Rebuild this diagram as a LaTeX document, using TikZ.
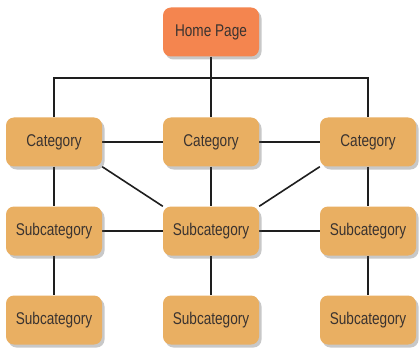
\documentclass[tikz,border=0pt]{standalone}
\usepackage{fontspec}
\setmainfont{Liberation Sans}[FakeStretch=0.8]
\usetikzlibrary{shadows,backgrounds}
\definecolor{boxc}{HTML}{E9AF62}
\definecolor{homec}{HTML}{F4854F}
\definecolor{txt}{HTML}{3A3330}
\definecolor{ln}{HTML}{1E1E1E}
\begin{document}
\begin{tikzpicture}[x=1pt,y=-1pt,
  box/.style={rounded corners=8pt, minimum width=96pt, minimum height=49pt,
    fill=boxc, text=txt, font=\fontsize{17}{20}\selectfont,
    drop shadow={shadow xshift=2.5pt, shadow yshift=-3pt, opacity=0.3, fill=black!70}},
  homebox/.style={box, fill=homec},
  conn/.style={draw=ln, line width=1.6pt}]
\useasboundingbox (0,0) rectangle (419,347);
\node[homebox] (home) at (211,32) {Home Page};
\node[box] (cat1) at (54,142) {Category};
\node[box] (cat2) at (211,142) {Category};
\node[box] (cat3) at (368,142) {Category};
\node[box] (s1) at (54,231) {Subcategory};
\node[box] (s2) at (211,231) {Subcategory};
\node[box] (s3) at (368,231) {Subcategory};
\node[box] (t1) at (54,320) {Subcategory};
\node[box] (t2) at (211,320) {Subcategory};
\node[box] (t3) at (368,320) {Subcategory};
\coordinate (bus) at (211,78);
\begin{scope}[on background layer]
\fill[white] (0,0) rectangle (419,347);
\draw[conn] (home) -- (cat2);
\draw[conn] (cat1.north) |- (bus) -| (cat3.north);
\draw[conn] (cat1) -- (cat2);
\draw[conn] (cat2) -- (cat3);
\draw[conn] (cat1) -- (s1);
\draw[conn] (cat2) -- (s2);
\draw[conn] (cat3) -- (s3);
\draw[conn] (cat1.south east) -- (s2.north west);
\draw[conn] (cat3.south west) -- (s2.north east);
\draw[conn] (s1) -- (s2);
\draw[conn] (s2) -- (s3);
\draw[conn] (s1) -- (t1);
\draw[conn] (s2) -- (t2);
\draw[conn] (s3) -- (t3);
\end{scope}
\end{tikzpicture}
\end{document}
